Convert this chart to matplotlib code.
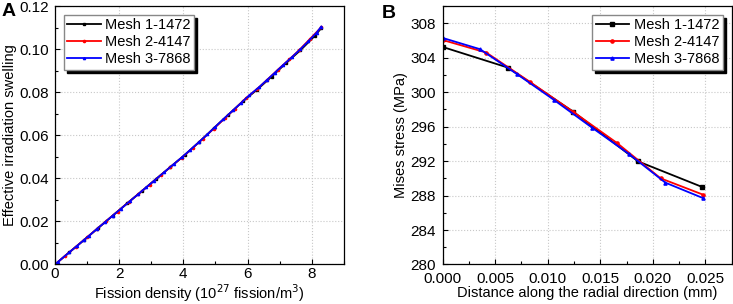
import matplotlib.pyplot as plt
from matplotlib.ticker import MultipleLocator, AutoMinorLocator

plt.rcParams['font.family'] = ['Liberation Sans', 'DejaVu Sans']

# Panel A: effective irradiation swelling vs fission density
fd_mesh1 = [0.0, 0.45, 0.9, 1.35, 1.8, 2.25, 2.7, 3.15, 3.6, 4.05, 4.5, 4.95,
            5.4, 5.85, 6.3, 6.75, 7.2, 7.65, 8.1, 8.3]
sw_mesh1 = [0.0, 0.0057, 0.0113, 0.0170, 0.0227, 0.0284, 0.0340, 0.0397, 0.0453,
            0.0509, 0.0570, 0.0633, 0.0695, 0.0757, 0.0812, 0.0872, 0.0935,
            0.0995, 0.1062, 0.1098]
fd_mesh2 = [0.0, 0.3, 0.65, 1.0, 1.3, 1.6, 1.95, 2.3, 2.6, 2.95, 3.3, 3.6, 3.95,
            4.3, 4.6, 4.95, 5.3, 5.6, 5.95, 6.3, 6.6, 6.95, 7.3, 7.6, 7.95, 8.3]
sw_mesh2 = [0.0, 0.0038, 0.0082, 0.0126, 0.0164, 0.0202, 0.0246, 0.0290, 0.0327,
            0.0371, 0.0415, 0.0453, 0.0496, 0.0542, 0.0583, 0.0631, 0.0680,
            0.0722, 0.0772, 0.0815, 0.0856, 0.0905, 0.0952, 0.0994, 0.1048, 0.1102]
fd_mesh3 = [0.0, 0.1, 0.45, 0.7, 0.9, 1.05, 1.3, 1.55, 1.8, 2.05, 2.35, 2.6, 2.85,
            3.1, 3.4, 3.7, 3.95, 4.2, 4.5, 4.75, 5.0, 5.25, 5.55, 5.8, 6.05,
            6.35, 6.6, 6.85, 7.1, 7.4, 7.65, 7.9, 8.15, 8.3]
sw_mesh3 = [0.0, 0.0013, 0.0057, 0.0088, 0.0113, 0.0132, 0.0164, 0.0195, 0.0227,
            0.0258, 0.0296, 0.0327, 0.0359, 0.0390, 0.0428, 0.0466, 0.0497,
            0.0530, 0.0570, 0.0604, 0.0640, 0.0675, 0.0716, 0.0750, 0.0785,
            0.0822, 0.0856, 0.0890, 0.0925, 0.0965, 0.1000, 0.1037, 0.1076, 0.1105]

# Panel B: Mises stress along the radial direction
dist_mesh1 = [0.0, 0.0062, 0.0124, 0.0186, 0.0247]
stress_mesh1 = [305.25, 302.86, 297.76, 291.97, 289.0]
dist_mesh2 = [0.0, 0.00415, 0.0083, 0.01245, 0.0166, 0.02075, 0.0248]
stress_mesh2 = [306.06, 304.6, 301.2, 297.7, 294.1, 290.0, 288.1]
dist_mesh3 = [0.0, 0.00354, 0.00708, 0.0106, 0.0142, 0.0177, 0.0212, 0.0248]
stress_mesh3 = [306.3, 305.0, 302.1, 299.1, 295.9, 292.86, 289.5, 287.7]

labels = ['Mesh 1-1472', 'Mesh 2-4147', 'Mesh 3-7868']
colors = ['black', 'red', 'blue']
markers = ['s', 'o', '^']

fig = plt.figure(figsize=(7.33, 3.04), dpi=100)
axA = fig.add_axes([0.075, 0.13, 0.394, 0.85])
axB = fig.add_axes([0.604, 0.13, 0.394, 0.85])

for x, y, lab, c, m in zip([fd_mesh1, fd_mesh2, fd_mesh3], [sw_mesh1, sw_mesh2, sw_mesh3],
                           labels, colors, markers):
    axA.plot(x, y, color=c, marker=m, markersize=1.6, linewidth=1.3, label=lab)

for x, y, lab, c, m in zip([dist_mesh1, dist_mesh2, dist_mesh3],
                           [stress_mesh1, stress_mesh2, stress_mesh3],
                           labels, colors, markers):
    axB.plot(x, y, color=c, marker=m, markersize=2.3, linewidth=1.3, label=lab)

fs = 10.5
tfs = 11
axA.set_xlim(0, 9)
axA.set_ylim(0, 0.12)
axA.xaxis.set_major_locator(MultipleLocator(2))
axA.yaxis.set_major_locator(MultipleLocator(0.02))
axA.yaxis.set_major_formatter(plt.FormatStrFormatter('%.2f'))
axA.set_xlabel('Fission density (10$^{27}$ fission/m$^3$)', fontsize=fs, labelpad=0.5)
axA.set_ylabel('Effective irradiation swelling', fontsize=fs, labelpad=2)

axB.set_xlim(0, 0.0275)
axB.set_ylim(280, 310)
axB.xaxis.set_major_locator(MultipleLocator(0.005))
axB.yaxis.set_major_locator(MultipleLocator(4))
axB.xaxis.set_major_formatter(plt.FormatStrFormatter('%.3f'))
axB.set_xlabel('Distance along the radial direction (mm)', fontsize=fs, labelpad=0)
axB.set_ylabel('Mises stress (MPa)', fontsize=fs, labelpad=2)

for ax in (axA, axB):
    ax.xaxis.set_minor_locator(AutoMinorLocator(2))
    ax.yaxis.set_minor_locator(AutoMinorLocator(2))
    ax.tick_params(which='both', direction='in', labelsize=tfs, top=False, right=False)
    ax.tick_params(which='major', length=3.5, width=0.8)
    ax.tick_params(which='minor', length=2, width=0.8)
    ax.tick_params(axis='y', pad=4)
    ax.tick_params(axis='x', pad=2)
    ax.grid(True, which='major', linestyle=':', color='#c8c8c8', linewidth=0.8)
    for s in ax.spines.values():
        s.set_linewidth(0.9)
axB.tick_params(axis='x', pad=5.5)
axB.tick_params(axis='y', pad=5)

leg_kw = dict(fontsize=fs, fancybox=False, edgecolor='#888888',
              shadow={'color': 'black', 'alpha': 1}, framealpha=1,
              handlelength=2.3, handletextpad=0.3, borderpad=0.25,
              labelspacing=0.2, borderaxespad=0.6)
axA.legend(loc='upper left', **leg_kw)
axB.legend(loc='upper right', **leg_kw)

fig.text(0.002, 0.962, 'A', fontsize=14, fontweight='bold', va='center')
fig.text(0.521, 0.955, 'B', fontsize=14, fontweight='bold', va='center')

fig.savefig('out.png', dpi=100)
